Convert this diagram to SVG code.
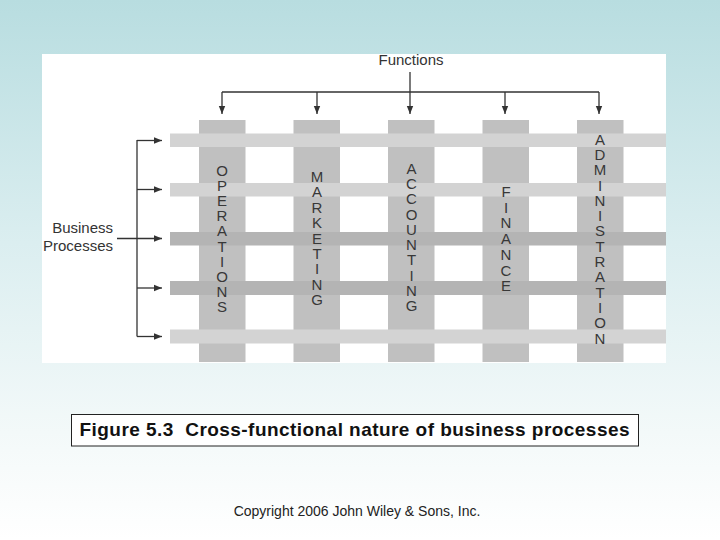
<svg xmlns="http://www.w3.org/2000/svg" width="720" height="540" viewBox="0 0 720 540">
  <defs>
    <linearGradient id="bg" x1="0" y1="0" x2="0" y2="1">
      <stop offset="0" stop-color="#b8dde0"/>
      <stop offset="0.45" stop-color="#dbeef0"/>
      <stop offset="0.8" stop-color="#f3f9f9"/>
      <stop offset="1" stop-color="#ffffff"/>
    </linearGradient>
    <marker id="ah" markerWidth="8" markerHeight="8" refX="8" refY="4" orient="auto" markerUnits="userSpaceOnUse">
      <path d="M0,0.8 L8,4 L0,7.2 Z" fill="#333"/>
    </marker>
    <style>
      .col { fill: #c0c0c0; }
      .rowL { fill: #d3d3d3; }
      .rowD { fill: #b4b4b4; }
      .lt { font-family: "Liberation Sans", Arial, sans-serif; font-size: 15px; fill: #383838; text-anchor: middle; }
      .lbl { font-family: "Liberation Sans", Arial, sans-serif; font-size: 15px; fill: #333; }
      .ln { stroke: #333; stroke-width: 1.3; fill: none; }
      .arr { stroke: #333; stroke-width: 1.3; fill: none; marker-end: url(#ah); }
    </style>
  </defs>
  <rect x="0" y="0" width="720" height="540" fill="url(#bg)"/>
  <rect x="42" y="54" width="624" height="309" fill="#ffffff"/>

  <g id="columns">
    <rect class="col" x="199" y="120" width="46.5" height="242"/>
    <rect class="col" x="293.5" y="120" width="46.5" height="242"/>
    <rect class="col" x="388" y="120" width="46.5" height="242"/>
    <rect class="col" x="482.5" y="120" width="46.5" height="242"/>
    <rect class="col" x="577" y="120" width="46.5" height="242"/>
  </g>
  <g id="process-rows">
    <rect class="rowL" x="170" y="133.5" width="496" height="13.5"/>
    <rect class="rowL" x="170" y="183" width="496" height="13.5"/>
    <rect class="rowD" x="170" y="232" width="496" height="13.5"/>
    <rect class="rowD" x="170" y="281" width="496" height="14"/>
    <rect class="rowL" x="170" y="329.5" width="496" height="14"/>
  </g>

  <g id="operations">
    <text class="lt" x="222" y="175.5">O</text>
    <text class="lt" x="222" y="190.7">P</text>
    <text class="lt" x="222" y="205.9">E</text>
    <text class="lt" x="222" y="221.1">R</text>
    <text class="lt" x="222" y="236.3">A</text>
    <text class="lt" x="222" y="251.5">T</text>
    <text class="lt" x="222" y="266.7">I</text>
    <text class="lt" x="222" y="281.9">O</text>
    <text class="lt" x="222" y="297.1">N</text>
    <text class="lt" x="222" y="312.3">S</text>
  </g>
  <g id="marketing">
    <text class="lt" x="317" y="182">M</text>
    <text class="lt" x="317" y="197.4">A</text>
    <text class="lt" x="317" y="212.8">R</text>
    <text class="lt" x="317" y="228.2">K</text>
    <text class="lt" x="317" y="243.6">E</text>
    <text class="lt" x="317" y="259">T</text>
    <text class="lt" x="317" y="274.4">I</text>
    <text class="lt" x="317" y="289.8">N</text>
    <text class="lt" x="317" y="305.2">G</text>
  </g>
  <g id="accounting">
    <text class="lt" x="411.5" y="173.6">A</text>
    <text class="lt" x="411.5" y="188.9">C</text>
    <text class="lt" x="411.5" y="204.2">C</text>
    <text class="lt" x="411.5" y="219.5">O</text>
    <text class="lt" x="411.5" y="234.8">U</text>
    <text class="lt" x="411.5" y="250.1">N</text>
    <text class="lt" x="411.5" y="265.4">T</text>
    <text class="lt" x="411.5" y="280.7">I</text>
    <text class="lt" x="411.5" y="296">N</text>
    <text class="lt" x="411.5" y="311.3">G</text>
  </g>
  <g id="finance">
    <text class="lt" x="506" y="197">F</text>
    <text class="lt" x="506" y="212.7">I</text>
    <text class="lt" x="506" y="228.4">N</text>
    <text class="lt" x="506" y="244.1">A</text>
    <text class="lt" x="506" y="259.8">N</text>
    <text class="lt" x="506" y="275.5">C</text>
    <text class="lt" x="506" y="291.2">E</text>
  </g>
  <g id="administration">
    <text class="lt" x="600" y="144.6">A</text>
    <text class="lt" x="600" y="159.9">D</text>
    <text class="lt" x="600" y="175.2">M</text>
    <text class="lt" x="600" y="190.5">I</text>
    <text class="lt" x="600" y="205.8">N</text>
    <text class="lt" x="600" y="221.1">I</text>
    <text class="lt" x="600" y="236.4">S</text>
    <text class="lt" x="600" y="251.7">T</text>
    <text class="lt" x="600" y="267">R</text>
    <text class="lt" x="600" y="282.3">A</text>
    <text class="lt" x="600" y="297.6">T</text>
    <text class="lt" x="600" y="312.9">I</text>
    <text class="lt" x="600" y="328.2">O</text>
    <text class="lt" x="600" y="343.5">N</text>
  </g>

  <g id="functions-label">
    <text class="lbl" x="411" y="65" text-anchor="middle">Functions</text>
  </g>
  <g id="business-processes-label">
    <text class="lbl" x="113" y="233" text-anchor="end">Business</text>
    <text class="lbl" x="113" y="251" text-anchor="end">Processes</text>
  </g>

  <g id="connectors">
    <path class="arr" d="M410,72 L410,114"/>
    <path class="ln" d="M222,92 L599,92"/>
    <path class="arr" d="M222,92 L222,114"/>
    <path class="arr" d="M317,92 L317,114"/>
    <path class="arr" d="M505,92 L505,114"/>
    <path class="arr" d="M599,92 L599,114"/>
    <path class="ln" d="M137,140 L137,336.5"/>
    <path class="arr" d="M137,140.5 L162,140.5"/>
    <path class="arr" d="M137,189.5 L162,189.5"/>
    <path class="arr" d="M117,238.5 L162,238.5"/>
    <path class="arr" d="M137,288 L162,288"/>
    <path class="arr" d="M137,336.5 L162,336.5"/>
  </g>

  <g id="caption">
    <rect x="71.5" y="414.5" width="567" height="31.5" fill="#ffffff" stroke="#222" stroke-width="1"/>
    <text x="79.5" y="436" xml:space="preserve" textLength="550" lengthAdjust="spacing" font-family="Liberation Sans, Arial, sans-serif" font-size="19" font-weight="bold" fill="#111">Figure 5.3  Cross-functional nature of business processes</text>
  </g>
  <g id="copyright">
    <text x="357" y="515.5" text-anchor="middle" font-family="Liberation Sans, Arial, sans-serif" font-size="14" fill="#222">Copyright 2006 John Wiley &amp; Sons, Inc.</text>
  </g>
</svg>
